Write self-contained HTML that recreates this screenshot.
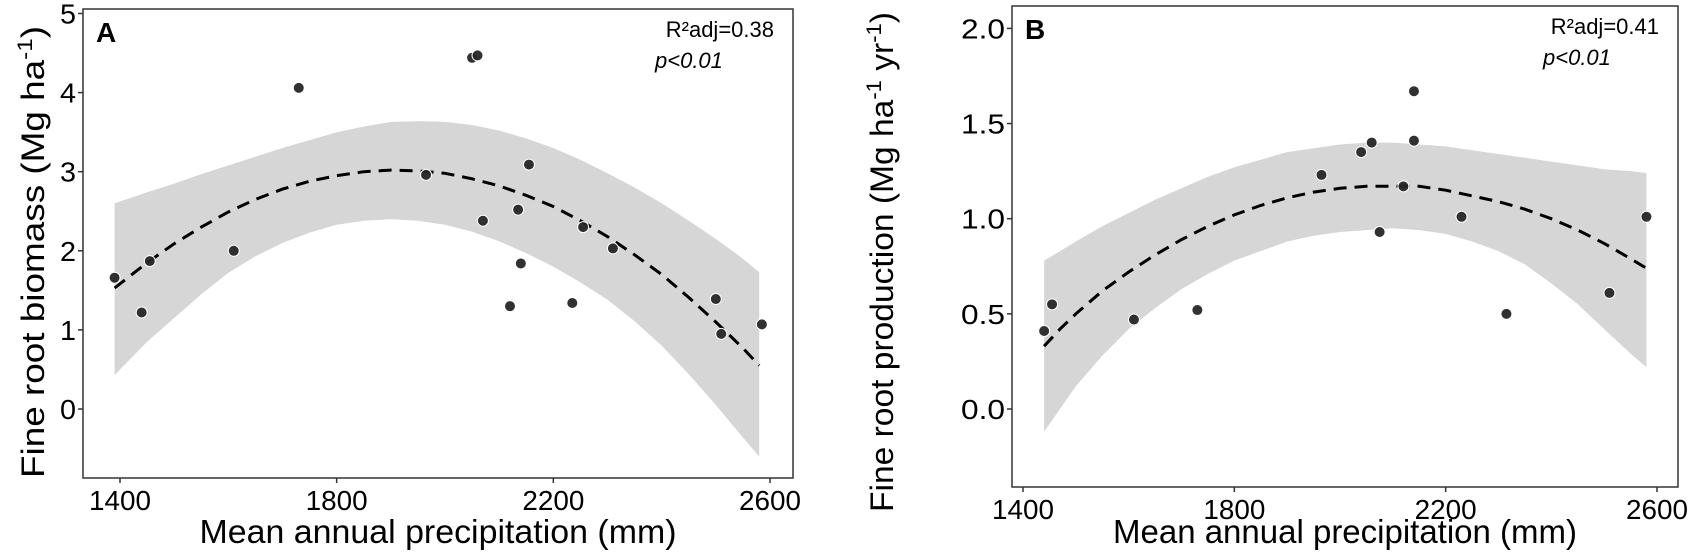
<!DOCTYPE html>
<html><head><meta charset="utf-8"><style>
html,body{margin:0;padding:0;background:#fff;}
svg{display:block;font-family:"Liberation Sans",Arial,sans-serif;}
</style></head><body>
<svg id="chart" width="1689" height="559" viewBox="0 0 1689 559"></svg>
<script>
// Panel A data
const aPointsX = [1390,1440,1455,1610,1730,1965,2050,2060,2070,2120,2135,2140,2155,2235,2255,2310,2500,2510,2585];
const aPointsY = [1.66,1.22,1.87,2.00,4.06,2.96,4.44,4.47,2.38,1.30,2.52,1.84,3.09,1.34,2.30,2.03,1.39,0.95,1.07];
const aFitX = [1390,1450,1500,1550,1600,1650,1700,1750,1800,1850,1900,1950,2000,2050,2100,2150,2200,2250,2300,2350,2400,2450,2500,2550,2580];
const aFitY = [1.53,1.85,2.09,2.30,2.49,2.65,2.78,2.88,2.95,3.00,3.02,3.01,2.98,2.91,2.82,2.70,2.56,2.38,2.18,1.95,1.70,1.41,1.10,0.77,0.55];
const aUpper = [2.60,2.74,2.85,2.97,3.08,3.19,3.30,3.40,3.50,3.57,3.63,3.64,3.63,3.59,3.52,3.42,3.30,3.15,2.98,2.80,2.60,2.38,2.15,1.90,1.73];
const aLower = [0.43,0.85,1.15,1.45,1.72,1.93,2.10,2.23,2.33,2.38,2.40,2.38,2.33,2.24,2.12,1.97,1.80,1.60,1.38,1.11,0.80,0.44,0.05,-0.36,-0.60];
const aYTicks = [0,1,2,3,4,5];
const aYTickLabels = ["0","1","2","3","4","5"];
// Panel B data
const bPointsX = [1440,1455,1610,1730,1965,2040,2060,2075,2120,2140,2140,2230,2315,2510,2580];
const bPointsY = [0.41,0.55,0.47,0.52,1.23,1.35,1.40,0.93,1.17,1.41,1.67,1.01,0.50,0.61,1.01];
const bFitX = [1440,1470,1500,1550,1600,1650,1700,1750,1800,1850,1900,1950,2000,2050,2100,2150,2200,2250,2300,2350,2400,2450,2500,2550,2580];
const bFitY = [0.33,0.42,0.50,0.62,0.72,0.81,0.89,0.96,1.02,1.07,1.11,1.14,1.16,1.17,1.17,1.17,1.15,1.12,1.09,1.05,1.00,0.94,0.87,0.79,0.74];
const bUpper = [0.78,0.83,0.88,0.96,1.03,1.10,1.16,1.22,1.27,1.31,1.35,1.37,1.39,1.40,1.40,1.39,1.38,1.36,1.34,1.32,1.30,1.28,1.26,1.25,1.24];
const bLower = [-0.12,0.00,0.12,0.28,0.42,0.53,0.63,0.71,0.78,0.83,0.88,0.91,0.93,0.94,0.95,0.94,0.92,0.88,0.83,0.76,0.66,0.55,0.42,0.29,0.22];
const bYTicks = [0,0.5,1,1.5,2];
const bYTickLabels = ["0.0","0.5","1.0","1.5","2.0"];
const xTicks = [1400,1800,2200,2600];
const xTickLabels = ["1400","1800","2200","2600"];

const NS="http://www.w3.org/2000/svg";
const svg=document.getElementById('chart');
function mk(tag,attrs,parent){const e=document.createElementNS(NS,tag);for(const k in attrs)e.setAttribute(k,attrs[k]);(parent||svg).appendChild(e);return e;}

function panel(cfg){
  const g=mk('g',{});
  
  
  const sx=v=>cfg.x0px+(v-1400)*cfg.xk;
  const sy=v=>cfg.y0px-v*cfg.yk;
  let d='';
  cfg.fitX.forEach((x,i)=>{d+=(i?'L':'M')+sx(x).toFixed(1)+','+sy(cfg.upper[i]).toFixed(1);});
  for(let i=cfg.fitX.length-1;i>=0;i--){d+='L'+sx(cfg.fitX[i]).toFixed(1)+','+sy(cfg.lower[i]).toFixed(1);}
  const band=mk('path',{d:d+'Z',fill:'#d6d6d6',stroke:'none'},g);
  
  
  let f='';
  cfg.fitX.forEach((x,i)=>{f+=(i?'L':'M')+sx(x).toFixed(1)+','+sy(cfg.fitY[i]).toFixed(1);});
  const fl=mk('path',{d:f,fill:'none',stroke:'#000','stroke-width':3,'stroke-dasharray':'13,8'},g);
  
  
  cfg.px.forEach((x,i)=>{
    const c=mk('circle',{cx:sx(x),cy:sy(cfg.py[i]),r:5.5,fill:'#262626',stroke:'#fff','stroke-width':1,'fill-opacity':0.95},g);
    
    
  });
  const fr=mk('rect',{x:cfg.left,y:cfg.top,width:cfg.right-cfg.left,height:cfg.bottom-cfg.top,fill:'none',stroke:'#333','stroke-width':1.5},g);
  
  
  xTicks.forEach((t,i)=>{
    const X=sx(t);
    mk('line',{x1:X,x2:X,y1:cfg.bottom,y2:cfg.bottom+5,stroke:'#333','stroke-width':1.5},g);
    const tl=mk('text',{x:X,y:cfg.bottom+32,'text-anchor':'middle','font-size':28,fill:'#000',textLength:62,lengthAdjust:'spacingAndGlyphs'},g);
    tl.textContent=xTickLabels[i];
    
    
  });
  cfg.yTicks.forEach((t,i)=>{
    const Y=sy(t);
    mk('line',{x1:cfg.left-5,x2:cfg.left,y1:Y,y2:Y,stroke:'#333','stroke-width':1.5},g);
    const tl=mk('text',{x:cfg.left-7,y:Y+10,'text-anchor':'end','font-size':28,fill:'#000',textLength:cfg.yTickW,lengthAdjust:'spacingAndGlyphs'},g);
    tl.textContent=cfg.yTickLabels[i];
    
    
  });
  const xt=mk('text',{x:cfg.xTitleX,y:543,'text-anchor':'middle','font-size':33,fill:'#000',textLength:cfg.xTitleW,lengthAdjust:'spacingAndGlyphs'},g);
  xt.textContent='Mean annual precipitation (mm)';
  
  
  const yt=mk('text',{transform:`translate(${cfg.yTitleX},${cfg.yTitleY}) rotate(-90)`,'text-anchor':'middle','font-size':32,fill:'#000',textLength:cfg.yTitleW,lengthAdjust:'spacingAndGlyphs'},g);
  yt.innerHTML=cfg.yTitle;
  
  
  const pl=mk('text',{x:cfg.left+13,y:cfg.top+33,'font-size':28,'font-weight':'bold',fill:'#000'},g);
  pl.textContent=cfg.letter;
  
  
  const r2=mk('text',{x:cfg.right-19,y:cfg.top+28,'text-anchor':'end','font-size':22,fill:'#000'},g);
  r2.textContent=cfg.r2;
  
  
  const pv=mk('text',{x:cfg.pX,y:cfg.top+59,'font-size':22,'font-style':'italic',fill:'#000'},g);
  pv.textContent='p<0.01';
  
  
}

panel({name:'panel-a',letter:'A',r2:'R²adj=0.38',left:83,right:793,top:9,bottom:478,
  x0px:120,xk:(770-120)/1200,y0px:409,yk:79.1,yTickW:16,
  px:aPointsX,py:aPointsY,fitX:aFitX,fitY:aFitY,upper:aUpper,lower:aLower,
  yTicks:aYTicks,yTickLabels:aYTickLabels,xTitleX:438,xTitleW:477,yTitleX:44,yTitleY:252,yTitleW:452,pX:655,
  yTitle:'Fine root biomass (Mg ha<tspan dy="-12" font-size="21">-1</tspan><tspan dy="12">)</tspan>'});
panel({name:'panel-b',letter:'B',r2:'R²adj=0.41',left:1012,right:1678,top:6,bottom:487,
  x0px:1023,xk:(1657-1023)/1200,y0px:409,yk:190.3,yTickW:44,
  px:bPointsX,py:bPointsY,fitX:bFitX,fitY:bFitY,upper:bUpper,lower:bLower,
  yTicks:bYTicks,yTickLabels:bYTickLabels,xTitleX:1345,xTitleW:464,yTitleX:893,yTitleY:262,yTitleW:500,pX:1543,
  yTitle:'Fine root production (Mg ha<tspan dy="-12" font-size="21">-1</tspan><tspan dy="12"> yr</tspan><tspan dy="-12" font-size="21">-1</tspan><tspan dy="12">)</tspan>'});
</script>
</body></html>
